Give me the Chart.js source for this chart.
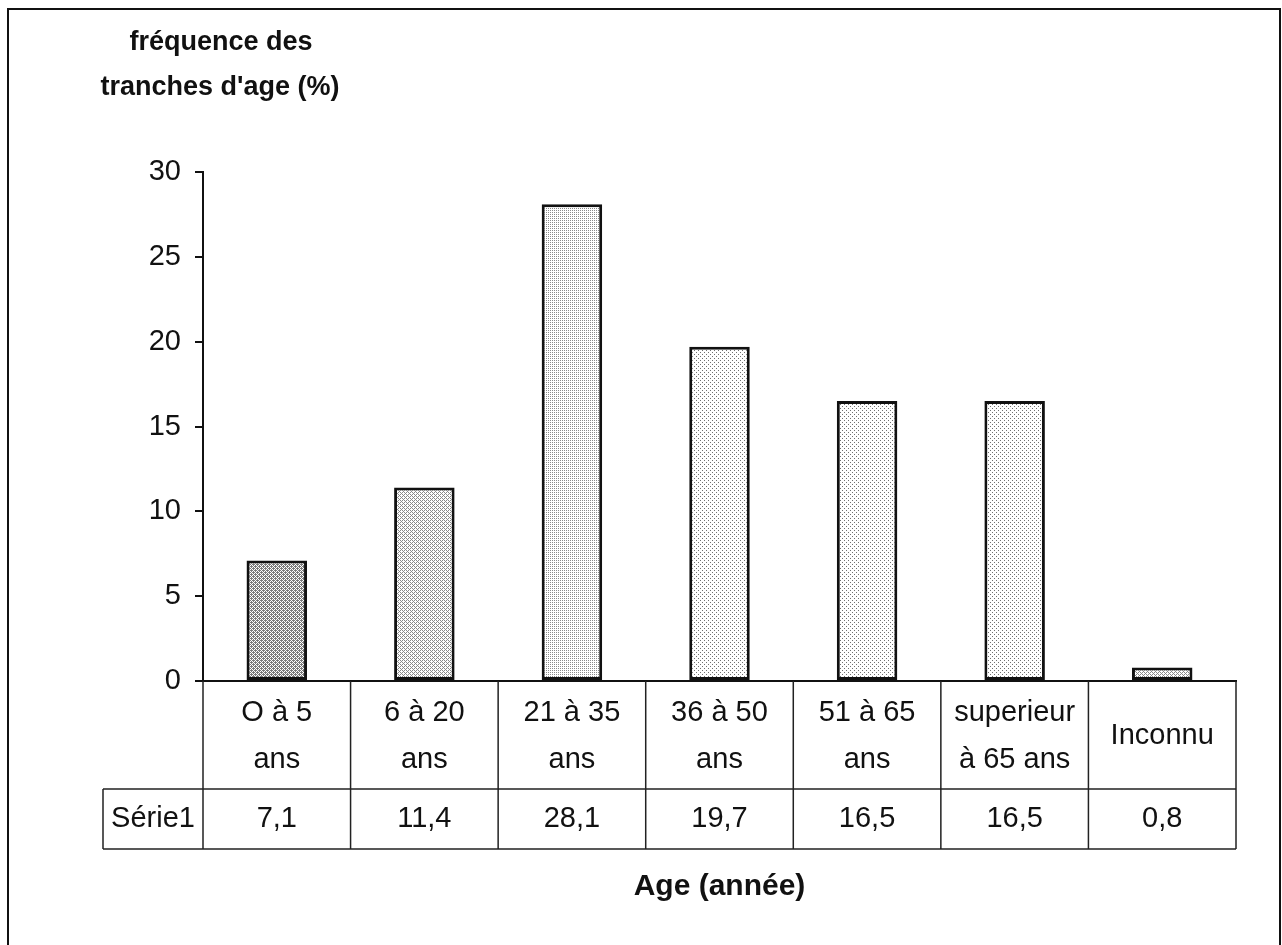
<!DOCTYPE html>
<html>
<head>
<meta charset="utf-8">
<script src="https://cdn.jsdelivr.net/npm/chart.js@4.4.1/dist/chart.umd.min.js"></script>
<style>
  body { margin: 0; background: #fff; }
  canvas { display: block; }
</style>
</head>
<body>
<canvas id="ageGraph" width="1282" height="945"></canvas>
<script>
// tranches d'age et frequences (%)
const categories = [['O à 5', 'ans'], ['6 à 20', 'ans'], ['21 à 35', 'ans'], ['36 à 50', 'ans'], ['51 à 65', 'ans'], ['superieur', 'à 65 ans'], 'Inconnu']
const frequences = [7.1, 11.4, 28.1, 19.7, 16.5, 16.5, 0.8]
const serieName = 'Série1'
const yTicks = [0, 5, 10, 15, 20, 25, 30]
const yTitle = ['fréquence des', "tranches d'age (%)"]
const xTitle = 'Age (année)'

const FONT = 'Liberation Sans, Arial, sans-serif'

// tramage ordonne (Bayer 4x4) pour imiter le grisé des barres
const bayer = [
    [0, 8, 2, 10],
    [12, 4, 14, 6],
    [3, 11, 1, 9],
    [15, 7, 13, 5],
]
function makePattern(density, dot) {
    const c = document.createElement('canvas')
    c.width = 4
    c.height = 4
    const g = c.getContext('2d')
    g.fillStyle = '#fff'
    g.fillRect(0, 0, 4, 4)
    g.fillStyle = dot
    for (let y = 0; y < 4; y++) {
        for (let x = 0; x < 4; x++) {
            if (bayer[y][x] < density * 16) g.fillRect(x, y, 1, 1)
        }
    }
    return g.createPattern(c, 'repeat')
}

const fills = [
    makePattern(0.6, '#7a7a7a'),
    makePattern(0.35, '#8a8a8a'),
    makePattern(0.25, '#8a8a8a'),
    makePattern(0.07, '#707070'),
    makePattern(0.07, '#707070'),
    makePattern(0.07, '#707070'),
    makePattern(0.35, '#8a8a8a'),
]

const tablePlugin = {
    id: 'tablePlugin',
    beforeDraw(chart) {
        const c = chart.ctx
        c.save()
        c.fillStyle = '#fff'
        c.fillRect(0, 0, chart.width, chart.height)
        c.restore()
    },
    afterDraw(chart) {
        const c = chart.ctx
        const x = chart.scales.x
        const area = chart.chartArea
        const n = categories.length
        const step = (area.right - area.left) / n
        const rowTop = area.bottom
        const rowMid = rowTop + 108
        const rowBottom = rowMid + 60
        const cellLeft = area.left - 100

        c.save()
        // cadre exterieur
        c.strokeStyle = '#111'
        c.lineWidth = 2
        c.strokeRect(8, 9, 1272, 960)

        // grille du tableau
        c.lineWidth = 1.5
        c.strokeStyle = '#222'
        c.beginPath()
        for (let i = 0; i <= n; i++) {
            const px = area.left + i * step
            c.moveTo(px, rowTop)
            c.lineTo(px, rowBottom)
        }
        c.moveTo(cellLeft, rowMid)
        c.lineTo(area.right, rowMid)
        c.moveTo(cellLeft, rowBottom)
        c.lineTo(area.right, rowBottom)
        c.moveTo(cellLeft, rowMid)
        c.lineTo(cellLeft, rowBottom)
        c.stroke()

        // ligne des valeurs
        c.fillStyle = '#111'
        c.font = '29px ' + FONT
        c.textAlign = 'center'
        c.textBaseline = 'middle'
        const valY = (rowMid + rowBottom) / 2
        c.fillText(serieName, (cellLeft + area.left) / 2, valY)
        frequences.forEach((v, i) => {
            c.fillText(v.toFixed(1).replace('.', ','), x.getPixelForValue(i), valY)
        })

        // titres
        c.font = 'bold 27px ' + FONT
        c.fillText(yTitle[0], 221, 43)
        c.fillText(yTitle[1], 220, 88)
        c.font = 'bold 30px ' + FONT
        c.fillText(xTitle, (area.left + area.right) / 2, 887)
        c.restore()
    }
}

const ageChart = new Chart(
    document.getElementById('ageGraph'),
    {
        type: 'bar',
        data: {
            labels: categories,
            datasets: [
                {
                    label: serieName,
                    data: frequences,
                    backgroundColor: fills,
                    borderColor: '#111',
                    borderWidth: 3,
                    borderSkipped: false,
                    categoryPercentage: 1,
                    barPercentage: 0.41,
                },
            ],
        },
        options: {
            responsive: false,
            animation: false,
            layout: {
                padding: { top: 172, right: 46, bottom: 0, left: 0 }
            },
            scales: {
                x: {
                    afterFit: (scale) => { scale.height = 264 },
                    grid: { display: false, drawTicks: false },
                    border: { display: true, color: '#111', width: 2 },
                    ticks: {
                        color: '#111',
                        padding: 32,
                        crossAlign: 'center',
                        maxRotation: 0,
                        autoSkip: false,
                        font: { family: FONT, size: 29, lineHeight: 1.62 },
                    }
                },
                y: {
                    min: 0,
                    max: 30,
                    afterFit: (scale) => { scale.width = 203 },
                    afterBuildTicks: (scale) => { scale.ticks = yTicks.map(v => ({ value: v })) },
                    grid: {
                        drawOnChartArea: false,
                        drawTicks: true,
                        tickLength: 8,
                        color: '#111',
                        lineWidth: 2,
                    },
                    border: { display: true, color: '#111', width: 2 },
                    ticks: {
                        color: '#111',
                        padding: 14,
                        font: { family: FONT, size: 29 },
                    }
                }
            },
            plugins: {
                legend: { display: false },
                tooltip: { enabled: false },
            }
        },
        plugins: [tablePlugin],
    }
);
</script>
</body>
</html>
